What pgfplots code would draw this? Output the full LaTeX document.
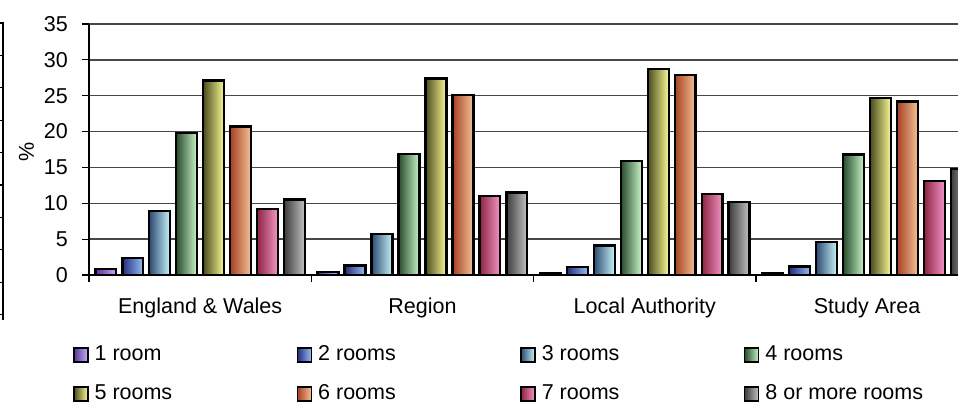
\documentclass[border=0pt]{standalone}
\usepackage{pgfplots}
\usepackage{pgfplotstable}
\pgfplotsset{compat=1.18}
\usepackage{fontspec}
\setmainfont{Liberation Sans}

\definecolor{ad}{RGB}{85,55,150}  \definecolor{al}{RGB}{200,170,250}
\definecolor{bd}{RGB}{35,45,125}  \definecolor{bl}{RGB}{150,190,245}
\definecolor{cd}{RGB}{45,75,115}  \definecolor{cl}{RGB}{200,245,250}
\definecolor{dd}{RGB}{40,75,45}   \definecolor{dl}{RGB}{200,245,200}
\definecolor{ed}{RGB}{75,75,30}   \definecolor{el}{RGB}{250,250,150}
\definecolor{fd}{RGB}{165,65,35}  \definecolor{fl}{RGB}{245,195,150}
\definecolor{gd}{RGB}{140,35,65}  \definecolor{gl}{RGB}{245,150,200}
\definecolor{hd}{RGB}{60,60,60}   \definecolor{hl}{RGB}{195,195,195}

% rooms per household, % (columns = number of rooms)
\pgfplotstableread{
x  r1   r2   r3   r4    r5    r6    r7    r8
0  0.8  2.4  8.9  19.8  27.1  20.7  9.2   10.5
1  0.4  1.3  5.7  16.9  27.4  25.1  11.0  11.5
2  0.2  1.1  4.1  15.9  28.7  27.9  11.3  10.2
3  0.3  1.2  4.6  16.8  24.7  24.2  13.1  14.8
}\rooms

\newcommand\legtxt[1]{\makebox[202pt][l]{#1}}
% one bar per \addplot so that each bar gets its own gradient
\newcommand\roombars[4]{%
  \addplot[left color=#3, right color=#4, bar shift=#2, forget plot,
    restrict x to domain=-0.2:0.2] table[x=x, y=#1] {\rooms};
  \addplot[left color=#3, right color=#4, bar shift=#2, forget plot,
    restrict x to domain=0.8:1.2] table[x=x, y=#1] {\rooms};
  \addplot[left color=#3, right color=#4, bar shift=#2, forget plot,
    restrict x to domain=1.8:2.2] table[x=x, y=#1] {\rooms};
  \addplot[left color=#3, right color=#4, bar shift=#2, forget plot,
    restrict x to domain=2.8:3.2] table[x=x, y=#1] {\rooms};
}

\begin{document}
\begin{tikzpicture}[x=1pt, y=1pt]
\begin{axis}[
  scale only axis, width=869pt, height=251pt,
  at={(89pt,128pt)}, anchor=south west,
  font=\fontsize{21.5pt}{25pt}\selectfont,
  /pgf/number format/assume math mode=true,
  ybar, bar width=20.9pt,
  xmin=-0.5, xmax=3.409, ymin=0, ymax=35,
  ytick={0,5,...,35},
  xtick={-0.5,0.5,1.5,2.5}, xticklabels={,,,},
  extra x ticks={0,1,2,3},
  extra x tick labels={England \& Wales,Region,Local Authority,Study Area},
  extra x tick style={major tick length=0pt, grid=none},
  axis x line*=bottom, axis y line*=left,
  axis line style={-, black, line width=1.2pt},
  tick align=outside, major tick length=7pt,
  tick style={black, line width=1.2pt},
  ymajorgrids, major grid style={black!72, line width=1.4pt},
  ylabel={\%},
  ylabel style={at={(axis description cs:-0.072,0.49)}, anchor=center},
  yticklabel style={inner sep=0pt, xshift=-14pt},
  xticklabel style={inner sep=0pt, text height=15.4pt, anchor=north, yshift=-23pt},
  every axis plot/.append style={draw=black, line width=2.4pt},
  legend columns=4,
  legend image code/.code={\draw[#1, line width=1.6pt] (0pt,-7pt) rectangle (14pt,7pt);},
  legend style={draw=none, fill=none, inner sep=0pt, outer sep=0pt,
    at={(axis description cs:-0.0184,-0.279)}, anchor=north west,
    nodes={inner sep=0pt, outer sep=0pt, text height=15pt, text depth=5pt},
    column sep=0pt, row sep=19pt,
    /tikz/every odd column/.append style={column sep=6pt}},
]
\roombars{r1}{-94.33pt}{ad}{al}
\roombars{r2}{-67.38pt}{bd}{bl}
\roombars{r3}{-40.43pt}{cd}{cl}
\roombars{r4}{-13.48pt}{dd}{dl}
\roombars{r5}{13.48pt}{ed}{el}
\roombars{r6}{40.43pt}{fd}{fl}
\roombars{r7}{67.38pt}{gd}{gl}
\roombars{r8}{94.33pt}{hd}{hl}
\addlegendimage{left color=ad, right color=al}\addlegendentry{\legtxt{1 room}}
\addlegendimage{left color=bd, right color=bl}\addlegendentry{\legtxt{2 rooms}}
\addlegendimage{left color=cd, right color=cl}\addlegendentry{\legtxt{3 rooms}}
\addlegendimage{left color=dd, right color=dl}\addlegendentry{\legtxt{4 rooms}}
\addlegendimage{left color=ed, right color=el}\addlegendentry{\legtxt{5 rooms}}
\addlegendimage{left color=fd, right color=fl}\addlegendentry{\legtxt{6 rooms}}
\addlegendimage{left color=gd, right color=gl}\addlegendentry{\legtxt{7 rooms}}
\addlegendimage{left color=hd, right color=hl}\addlegendentry{\legtxt{8 or more rooms}}
\end{axis}
% edge of a neighbouring frame, cut off at the left
\draw[line width=2pt] (3,380) -- (3,83);
\foreach \k in {0,...,9} \draw[line width=1.2pt] (0,380-32.4*\k) -- (4,380-32.4*\k);
\pgfresetboundingbox
\path[use as bounding box] (0,0) rectangle (958,403);
\end{tikzpicture}
\end{document}
